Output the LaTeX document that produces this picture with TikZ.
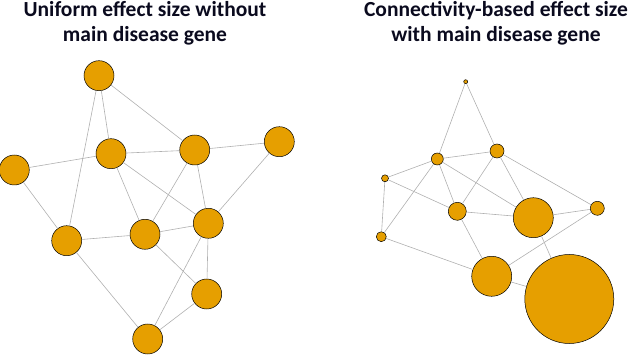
\documentclass[tikz,border=0pt]{standalone}
\usepackage{fontspec}
\setmainfont{Carlito}
\definecolor{gene}{HTML}{E69F00}
\definecolor{edgec}{HTML}{B0B0B0}
\definecolor{titlec}{HTML}{0A0A1E}
\begin{document}
\begin{tikzpicture}[x=1pt,y=-1pt,
  gnode/.style={circle,draw=black,line width=0.5pt,fill=gene,inner sep=0pt,minimum size=#1},
  gedge/.style={draw=edgec,line width=0.6pt},
  ttl/.style={font=\fontsize{21.5}{25}\selectfont\bfseries,text=titlec,align=center,inner sep=0pt}]
\useasboundingbox (0,0) rectangle (640,355);
% titles
\node[ttl] (t1) at (145,23) {Uniform effect size without\\main disease gene};
\node[ttl] (t2) at (496,23) {Connectivity-based effect size\\with main disease gene};
% left network
\begin{scope}[every node/.style={gnode=30pt}]
\node (A) at (99,75.7) {};
\node (B) at (111,153.7) {};
\node (C) at (194.7,150) {};
\node (D) at (279.3,141.7) {};
\node (E) at (14.3,170) {};
\node (F) at (66.7,240.7) {};
\node (G) at (145,234.3) {};
\node (H) at (208.3,223.3) {};
\node (I) at (206.7,294) {};
\node (J) at (147.7,339) {};
\end{scope}
\foreach \a/\b in {A/B,A/C,A/F,B/E,B/C,B/G,B/H,C/D,C/G,C/H,D/H,E/F,F/G,F/J,G/H,G/I,H/I,H/J,I/J}
  \path[gedge] (\a) -- (\b);
% right network
\node[gnode=4pt] (P) at (465.7,81.7) {};
\node[gnode=12pt] (Q) at (437.3,159) {};
\node[gnode=14pt] (R) at (497,151) {};
\node[gnode=7pt] (S) at (385,178.3) {};
\node[gnode=18pt] (T) at (457.3,211.3) {};
\node[gnode=40pt] (U) at (533.3,217.7) {};
\node[gnode=14pt] (V) at (597.3,208.3) {};
\node[gnode=10pt] (W) at (381.3,236.7) {};
\node[gnode=40pt] (X) at (491.7,276.3) {};
\node[gnode=89pt] (Y) at (569.3,299) {};
\foreach \a/\b in {P/Q,P/R,S/Q,Q/R,S/T,S/W,W/Q,W/X,Q/T,Q/U,R/T,R/U,R/V,T/U,T/X,U/V,V/X,U/Y,X/Y}
  \path[gedge] (\a) -- (\b);
\end{tikzpicture}
\end{document}
